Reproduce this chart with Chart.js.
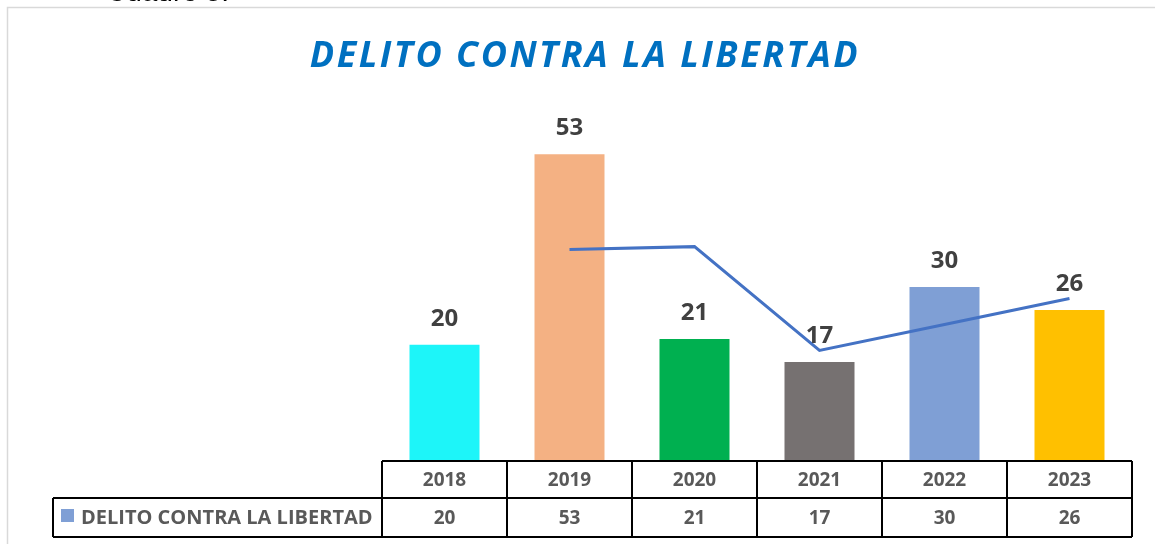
<!DOCTYPE html>
<html>
<head>
<meta charset="utf-8">
<script src="https://cdn.jsdelivr.net/npm/chart.js@4.4.0/dist/chart.umd.min.js"></script>
<style>
  html, body { margin: 0; padding: 0; background: #fff; }
  #wrap { width: 1155px; height: 544px; }
</style>
</head>
<body>
<div id="wrap"><canvas id="chart" width="1155" height="544"></canvas></div>
<script>
const years = ['2018', '2019', '2020', '2021', '2022', '2023'];
const values = [20, 53, 21, 17, 30, 26];
const barColors = ['#1DF5F9', '#F4B183', '#00B050', '#767171', '#7F9FD5', '#FFC000'];
// media movil de 2 periodos (linea de tendencia)
const trend = [null, 36.5, 37, 19, 23.5, 28];
const seriesName = 'DELITO CONTRA LA LIBERTAD';
const chartTitle = 'DELITO CONTRA LA LIBERTAD';
const captionText = 'Cuadro 3.';

const FONT = '"Open Sans", "Noto Sans", sans-serif';

const extras = {
    id: 'extras',
    afterDraw(chart) {
        const ctx = chart.ctx;
        const x = chart.scales.x;
        const area = chart.chartArea;
        ctx.save();

        // texto cortado arriba
        ctx.fillStyle = '#000';
        ctx.font = '28px "Liberation Sans", Arial, sans-serif';
        ctx.textAlign = 'left';
        ctx.textBaseline = 'alphabetic';
        ctx.fillText(captionText, 106, 1);

        // marco
        ctx.strokeStyle = '#D9D9D9';
        ctx.lineWidth = 1.5;
        ctx.beginPath();
        ctx.moveTo(7.5, 544);
        ctx.lineTo(7.5, 7.5);
        ctx.lineTo(1155, 7.5);
        ctx.stroke();

        // titulo
        ctx.fillStyle = '#0070C0';
        ctx.font = 'italic bold 36px ' + FONT;
        ctx.textAlign = 'center';
        ctx.letterSpacing = '2.5px';
        ctx.fillText(chartTitle, 585, 67);
        ctx.letterSpacing = '0px';

        // etiquetas de datos
        const bars = chart.getDatasetMeta(1).data;
        ctx.fillStyle = '#404040';
        ctx.font = 'bold 24px ' + FONT;
        bars.forEach((b, i) => {
            ctx.fillText(String(values[i]), b.x, b.y - 19);
        });

        // tabla de datos
        const half = (x.getPixelForValue(1) - x.getPixelForValue(0)) / 2;
        const left = x.getPixelForValue(0) - half;
        const right = x.getPixelForValue(years.length - 1) + half;
        const top = area.bottom + 1, mid = 498, bot = 537, legLeft = 53;

        ctx.strokeStyle = '#000';
        ctx.lineWidth = 2;
        ctx.beginPath();
        ctx.moveTo(left, top); ctx.lineTo(right, top);
        ctx.moveTo(legLeft, mid); ctx.lineTo(right, mid);
        ctx.moveTo(legLeft, bot); ctx.lineTo(right, bot);
        ctx.moveTo(legLeft, mid); ctx.lineTo(legLeft, bot);
        for (let i = 0; i <= years.length; i++) {
            const px = left + i * half * 2;
            ctx.moveTo(px, top); ctx.lineTo(px, bot);
        }
        ctx.stroke();

        ctx.fillStyle = '#595959';
        ctx.font = 'bold 19px ' + FONT;
        ctx.textBaseline = 'middle';
        years.forEach((y, i) => {
            const cx = x.getPixelForValue(i);
            ctx.fillText(y, cx, (top + mid) / 2 + 1);
            ctx.fillText(String(values[i]), cx, (mid + bot) / 2 + 1);
        });

        // leyenda
        ctx.fillStyle = barColors[4];
        ctx.fillRect(61, 509, 13, 13);
        ctx.fillStyle = '#595959';
        ctx.font = 'bold 20px ' + FONT;
        ctx.textAlign = 'left';
        ctx.fillText(seriesName, 81, (mid + bot) / 2 + 1, 292);

        ctx.restore();
    }
};

new Chart(document.getElementById('chart'), {
    data: {
        labels: years,
        datasets: [
            {
                type: 'line',
                label: 'tendencia',
                data: trend,
                borderColor: '#4472C4',
                borderWidth: 3,
                pointRadius: 0,
                tension: 0,
                order: 0
            },
            {
                type: 'bar',
                label: seriesName,
                data: values,
                backgroundColor: barColors,
                categoryPercentage: 1,
                barPercentage: 0.56,
                order: 1
            }
        ]
    },
    options: {
        responsive: false,
        animation: false,
        layout: { padding: { left: 382, right: 23, top: 114, bottom: 84 } },
        scales: {
            x: { display: false, offset: true },
            y: { display: false, min: 0, max: 60 }
        },
        plugins: {
            legend: { display: false },
            tooltip: { enabled: false }
        }
    },
    plugins: [extras]
});
</script>
</body>
</html>
